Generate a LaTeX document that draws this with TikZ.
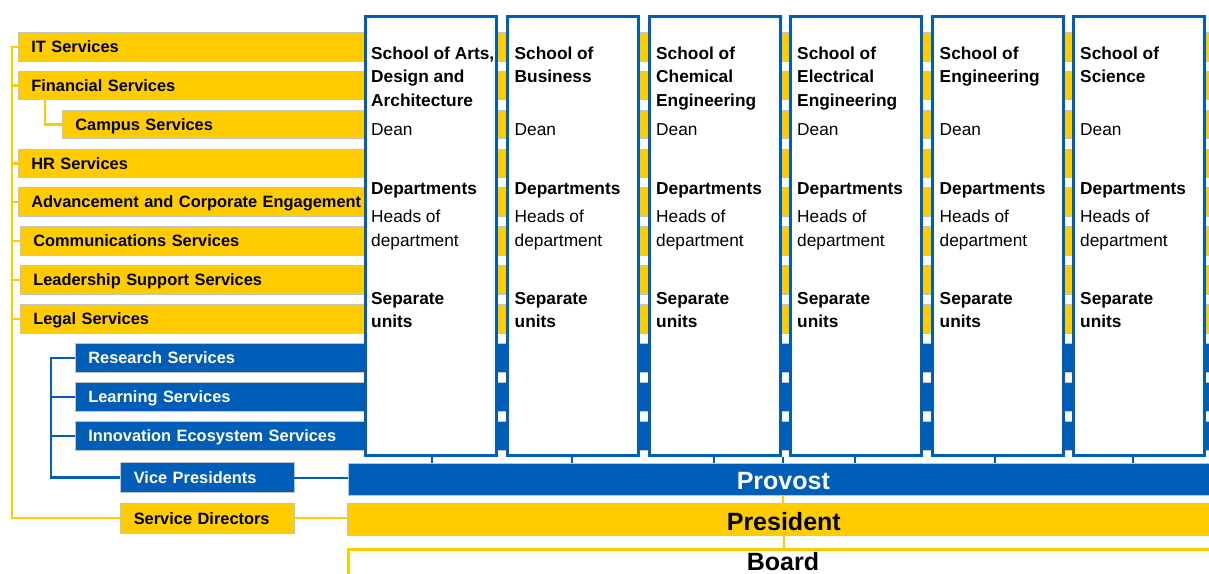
\documentclass[tikz,border=0pt]{standalone}
\usepackage{fontspec}
\setmainfont{Liberation Sans}
\definecolor{uyel}{RGB}{255,204,0}
\definecolor{ublue}{RGB}{0,94,184}
\definecolor{edge}{RGB}{195,195,195}
\newcommand\mkschool[7]{%
  \node[colbox] (#1) at (#2+1.5,14.5) {};
  \node[ctb] (#1a) at (#2+#7,59) {#3};
  \node[ctb] (#1b) at (#2+#7,82.5) {#4};
  \node[ctb] (#1c) at (#2+#7,106) {#5};
  \node[ct] (#1d) at (#2+#7,135) {Dean};
  \node[ctb] (#1e) at (#2+#7,194) {Departments};
  \node[ct] (#1f) at (#2+#7,222) {Heads of};
  \node[ct] (#1g) at (#2+#7,246) {department};
  \node[ctb] (#1h) at (#2+#7,304) {Separate};
  \node[ctb] (#1i) at (#2+#7,327) {units};
  \draw[cline] ([xshift=#6pt]#1.south) -- ([xshift=#6pt]#1.south |- prov.north);
}
\begin{document}
\begin{tikzpicture}[x=1pt,y=-1pt,
  bar/.style={anchor=west, inner xsep=13pt, inner ysep=0pt, minimum height=28.5pt,
    text height=11.8pt, text depth=0pt, align=left,
    font=\fontsize{16.4}{19}\selectfont\bfseries, draw=edge, line width=0.6pt},
  ybar/.style={bar, fill=uyel, text=black},
  bbar/.style={bar, fill=ublue, text=white},
  colbox/.style={draw=ublue, line width=3pt, fill=white, minimum width=131pt,
    minimum height=439pt, inner sep=0pt, anchor=north west},
  ct/.style={anchor=base west, inner sep=0pt, font=\fontsize{17.3}{20}\selectfont},
  ctb/.style={anchor=base west, inner sep=0pt, font=\fontsize{17.3}{20}\selectfont\bfseries},
  yline/.style={draw=uyel, line width=2.2pt},
  bline/.style={draw=ublue, line width=2.5pt},
  cline/.style={draw=ublue, line width=2pt},
  big/.style={inner sep=0pt, text height=20.9pt, text depth=0pt,
    font=\fontsize{25}{28}\selectfont\bfseries}
]
\useasboundingbox (0,0) rectangle (1209,573);
\clip (0,0) rectangle (1209,573);

% service bars
\node[ybar, text width=1171pt] (it) at (18,47) {IT Services};
\node[ybar, text width=1171pt] (fin) at (18,85.5) {Financial Services};
\node[ybar, text width=1127pt] (campus) at (62,124.5) {Campus Services};
\node[ybar, text width=1171pt] (hr) at (18,163.5) {HR Services};
\node[ybar, text width=1171pt] (adv) at (18,202) {Advancement and Corporate Engagement};
\node[ybar, text width=1169pt] (comm) at (20,241) {Communications Services};
\node[ybar, text width=1169pt] (lead) at (20,280) {Leadership Support Services};
\node[ybar, text width=1169pt] (legal) at (20,319) {Legal Services};
\node[bbar, text width=1114pt] (rs) at (75,358) {Research Services};
\node[bbar, text width=1114pt] (ls) at (75,397) {Learning Services};
\node[bbar, text width=1114pt] (ies) at (75,436) {Innovation Ecosystem Services};

% left boxes
\node[bbar, inner xsep=14pt, text width=146pt, minimum height=29.5pt] (vp) at (119.5,477.5) {Vice Presidents};
\node[ybar, inner xsep=14pt, text width=146pt, minimum height=30pt] (sd) at (119.5,518.3) {Service Directors};

% provost, president, board
\node[big, anchor=west, fill=ublue, text=white, draw=edge, line width=0.6pt,
  minimum width=870pt, minimum height=32pt] (prov) at (348,479) {Provost};
\node[big, anchor=west, fill=uyel, text=black, draw=edge, line width=0.6pt,
  text height=21.9pt, minimum width=874pt, minimum height=32.5pt] (pres) at (346.5,519.5) {President};
\node[anchor=north west, fill=white, draw=uyel, line width=2.5pt, inner sep=0pt,
  minimum width=874pt, minimum height=40pt] (board) at (347,548) {};
\node[big, text height=17.9pt] (boardtxt) at (783,562) {Board};

% schools
\mkschool{c1}{362}{School of Arts,}{Design and}{Architecture}{1}{9}
\mkschool{c2}{504}{School of}{Business}{}{-1}{10.5}
\mkschool{c3}{646}{School of}{Chemical}{Engineering}{-1}{10}
\mkschool{c4}{787}{School of}{Electrical}{Engineering}{-1}{10}
\mkschool{c5}{929}{School of}{Engineering}{}{-3}{10.5}
\mkschool{c6}{1070}{School of}{Science}{}{-6}{10}

% central connectors
\draw[cline] (prov.north) -- (prov.north |- c3.south);
\draw[draw=uyel, line width=2pt] (prov.south) -- (prov.south |- pres.north);
\draw[draw=uyel, line width=2pt] (pres.south) -- (pres.south |- board.north);

% yellow spine
\coordinate (ysp) at (11.7,47);
\draw[yline] (it.west) -- (ysp) |- (sd.west);
\foreach \b in {fin,hr,adv,comm,lead,legal}{
  \draw[yline] (\b.west) -- (\b.west -| ysp);
}
\draw[yline] ([xshift=27pt]fin.south west) |- (campus.west);

% blue spine
\coordinate (bsp) at (51,358);
\draw[bline] (rs.west) -- (bsp) |- (vp.west);
\foreach \b in {ls,ies}{
  \draw[bline] (\b.west) -- (\b.west -| bsp);
}

% to provost / president
\draw[cline] (vp.east) -- (vp.east -| prov.west);
\draw[yline] (sd.east) -- (sd.east -| pres.west);
\end{tikzpicture}
\end{document}
